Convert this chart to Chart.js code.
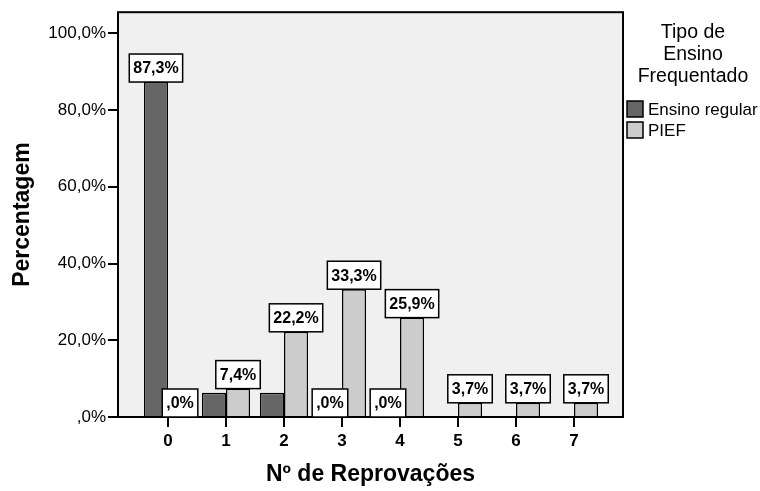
<!DOCTYPE html>
<html>
<head>
<meta charset="utf-8">
<script src="https://cdn.jsdelivr.net/npm/chart.js@4"></script>
<style>
  body { margin: 0; background: #fff; }
  #wrap { width: 760px; height: 491px; }
</style>
</head>
<body>
<div id="wrap"><canvas id="myChart" width="760" height="491"></canvas></div>
<script>
// Nº de reprovações (categories)
const categories = ['0', '1', '2', '3', '4', '5', '6', '7']
// percentages
const regularValues = [87.3, 6.3, 6.3, 0, 0, null, null, null]
const piefValues = [0, 7.4, 22.2, 33.3, 25.9, 3.7, 3.7, 3.7]
const regularHiddenLabels = [1, 2]
const yTicks = [0, 20, 40, 60, 80, 100]
const seriesNames = ['Ensino regular', 'PIEF']
const legendTitle = ['Tipo de', 'Ensino', 'Frequentado']

const FONT = '"Liberation Sans", Arial, sans-serif'

const fmt = v => {
    let s = v.toFixed(1).replace('.', ',') + '%'
    if (s.startsWith('0,')) s = s.slice(1)
    return s
}

const frame = {
    id: 'frame',
    beforeDatasetsDraw(chart) {
        const { ctx, chartArea: a } = chart
        ctx.save()
        ctx.fillStyle = '#f0f0f0'
        ctx.fillRect(a.left, a.top, a.right - a.left, a.bottom - a.top)
        ctx.restore()
    },
    afterDatasetsDraw(chart) {
        const { ctx, chartArea: a } = chart
        ctx.save()
        ctx.strokeStyle = '#000'
        ctx.lineWidth = 2
        ctx.strokeRect(a.left, a.top, a.right - a.left, a.bottom - a.top)

        // value labels in white boxes
        ctx.font = 'bold 16px ' + FONT
        ctx.textAlign = 'center'
        ctx.textBaseline = 'middle'
        chart.data.datasets.forEach((ds, di) => {
            const meta = chart.getDatasetMeta(di)
            meta.data.forEach((bar, i) => {
                const v = ds.data[i].y
                if (v === null) return
                if (di === 0 && regularHiddenLabels.includes(i)) return
                const txt = fmt(v)
                const w = ctx.measureText(txt).width + 8
                const h = 28
                const x = bar.x - w / 2
                const y = bar.y - h
                ctx.fillStyle = '#fff'
                ctx.fillRect(x, y, w, h)
                ctx.lineWidth = 1.5
                ctx.strokeRect(x, y, w, h)
                ctx.fillStyle = '#000'
                ctx.fillText(txt, bar.x, y + h / 2 + 1)
            })
        })

        // legend
        ctx.font = '19.5px ' + FONT
        ctx.fillStyle = '#000'
        legendTitle.forEach((t, i) => ctx.fillText(t, 693, 33 + i * 22))
        ctx.font = '17px ' + FONT
        ctx.textAlign = 'left'
        chart.data.datasets.forEach((ds, di) => {
            const y = 101 + di * 21
            ctx.fillStyle = ds.backgroundColor
            ctx.fillRect(627, y, 16, 16)
            ctx.lineWidth = 1.5
            ctx.strokeRect(627, y, 16, 16)
            ctx.fillStyle = '#000'
            ctx.fillText(ds.label, 648, y + 9)
        })
        ctx.restore()
    }
}

const ctx = document.getElementById('myChart')

new Chart(ctx, {
    type: 'bar',
    data: {
        datasets: [{
            label: seriesNames[0],
            data: regularValues.map((v, i) => ({ x: i, y: v })),
            backgroundColor: '#666666',
            borderColor: '#000',
            borderWidth: 1.5
        }, {
            label: seriesNames[1],
            data: piefValues.map((v, i) => ({ x: i, y: v })),
            backgroundColor: '#cccccc',
            borderColor: '#000',
            borderWidth: 1.5
        }]
    },
    options: {
        responsive: false,
        animation: false,
        categoryPercentage: 0.83,
        barPercentage: 1,
        layout: { padding: { top: 12, right: 137, left: 0, bottom: 0 } },
        plugins: { legend: { display: false }, tooltip: { enabled: false } },
        scales: {
            x: {
                type: 'linear',
                offset: false,
                min: -0.862,
                max: 7.845,
                afterFit: s => { s.height = 74 },
                afterBuildTicks: s => { s.ticks = categories.map((c, i) => ({ value: i })) },
                border: { display: false },
                grid: { drawOnChartArea: false, drawTicks: true, tickLength: 10, color: '#000', lineWidth: 2, offset: false },
                ticks: {
                    color: '#000',
                    padding: 4,
                    font: { family: FONT, size: 17, weight: 'bold' },
                    callback: v => categories[v]
                },
                title: {
                    display: true,
                    text: 'Nº de Reprovações',
                    color: '#000',
                    font: { family: FONT, size: 23, weight: 'bold' },
                    padding: { top: 0, bottom: 3 }
                }
            },
            y: {
                min: 0,
                max: 105.5,
                afterFit: s => { s.width = 118 },
                afterBuildTicks: s => { s.ticks = yTicks.map(v => ({ value: v })) },
                border: { display: false },
                grid: { drawOnChartArea: false, drawTicks: true, tickLength: 10, color: '#000', lineWidth: 2 },
                ticks: {
                    color: '#000',
                    padding: 2,
                    font: { family: FONT, size: 17 },
                    callback: v => fmt(v)
                },
                title: {
                    display: true,
                    text: 'Percentagem',
                    color: '#000',
                    font: { family: FONT, size: 23, weight: 'bold' },
                    padding: { top: 9, bottom: 0 }
                }
            }
        }
    },
    plugins: [frame]
})
</script>
</body>
</html>
